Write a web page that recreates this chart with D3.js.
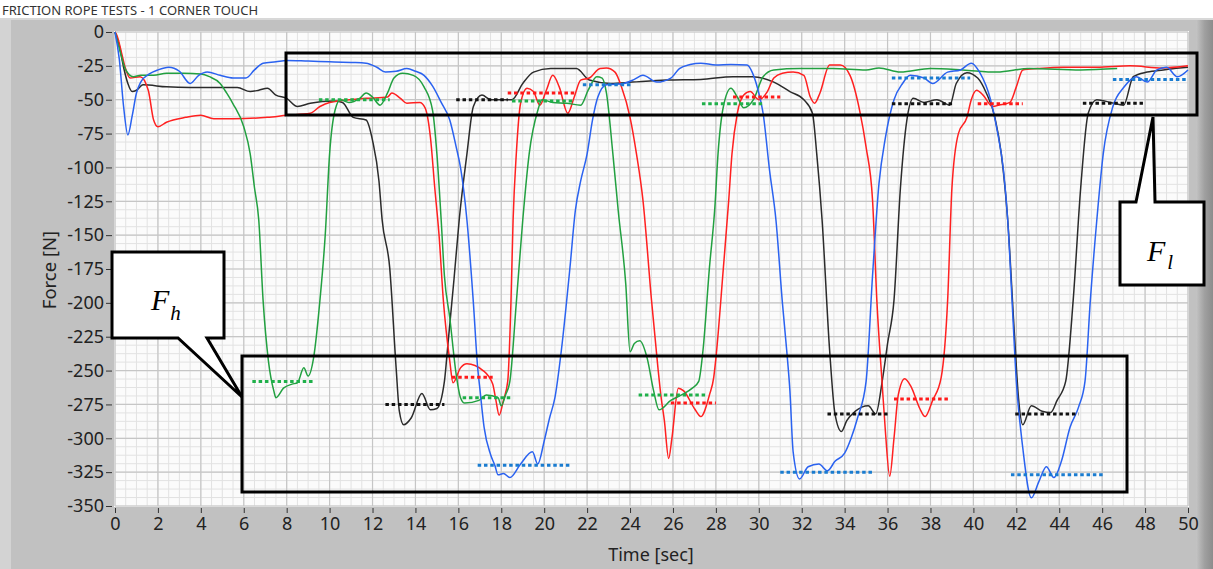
<!DOCTYPE html>
<html>
<head>
<meta charset="utf-8">
<script src="https://cdn.jsdelivr.net/npm/d3@7"></script>
<style>
  html, body { margin: 0; padding: 0; background: #fff; }
  svg { display: block; }
</style>
</head>
<body>
<div id="chart"></div>
<script>
// ---- data ----
var xTicks = [0,2,4,6,8,10,12,14,16,18,20,22,24,26,28,30,32,34,36,38,40,42,44,46,48,50];
var yTicks = [0,-25,-50,-75,-100,-125,-150,-175,-200,-225,-250,-275,-300,-325,-350];

var blueData = [[0,0],[0.2,-20],[0.4,-55],[0.6,-76],[0.8,-62],[1.0,-45],[1.2,-37],[1.6,-31],[2.0,-28],[2.5,-26],[3.0,-29],[3.5,-38],[3.9,-32],[4.3,-29.5],[4.9,-32],[5.5,-34],[6.1,-34],[6.5,-28],[6.9,-23],[7.5,-22],[8.0,-21],[9,-21.5],[10,-22],[11,-22.5],[11.7,-23],[12.2,-26],[12.6,-29.5],[13.1,-29],[13.6,-27],[14.0,-29],[14.4,-32],[14.8,-40],[15.2,-52],[15.6,-65],[15.9,-85],[16.1,-100],[16.4,-139],[16.7,-200],[16.9,-248],[17.0,-263],[17.2,-292],[17.5,-312],[17.7,-320],[17.85,-327],[18.1,-326],[18.4,-329],[18.9,-319],[19.45,-310],[19.7,-319],[20.0,-302],[20.25,-285],[20.5,-270],[20.8,-235],[21.2,-174],[21.45,-132],[21.7,-110],[22.0,-90],[22.25,-65],[22.5,-48],[22.9,-39],[23.7,-38],[24.2,-35],[24.6,-32],[25.25,-37],[25.9,-34],[26.3,-27],[26.8,-24],[27.3,-23],[28.0,-24.4],[28.7,-24],[29.45,-24.4],[29.7,-30],[29.95,-42],[30.2,-60],[30.5,-102],[30.8,-139],[31.1,-200],[31.3,-235],[31.45,-265],[31.6,-310],[31.9,-330],[32.3,-321],[32.8,-319],[33.2,-324],[33.55,-317],[34.0,-311],[34.3,-300],[34.6,-285],[35.0,-258],[35.3,-180],[35.6,-112],[35.9,-78],[36.3,-50],[36.7,-38],[37.05,-32],[37.7,-34],[38.1,-38],[38.8,-29.6],[39.4,-28],[39.9,-23],[40.3,-30],[40.8,-50],[41.1,-72],[41.4,-102],[41.6,-139],[41.8,-198],[42.0,-258],[42.3,-307],[42.7,-344],[43.05,-332],[43.4,-321],[43.75,-329],[44.1,-317],[44.5,-292],[44.9,-277],[45.2,-258],[45.45,-198],[45.75,-139],[46.05,-90],[46.5,-55],[47.0,-41],[47.6,-33],[48.1,-37],[48.55,-28],[49.0,-26],[49.5,-33],[50,-28]];

var blackData = [[0,0],[0.2,-10],[0.4,-26],[0.6,-38],[0.8,-44],[1.0,-43],[1.3,-39],[2.4,-40.5],[3.5,-41],[4.75,-41],[5.7,-41],[6.3,-44],[6.7,-43],[7.1,-41.5],[7.5,-46.6],[8.0,-49],[8.5,-55],[9.1,-52.6],[10.2,-51],[10.6,-52],[11.1,-63],[11.7,-65],[12.0,-80],[12.3,-110],[12.45,-139],[12.8,-174],[13.1,-248],[13.25,-280],[13.45,-290],[13.8,-285],[14.3,-267],[14.7,-279],[15.0,-278],[15.35,-258],[15.5,-233],[15.8,-182],[16.05,-137],[16.4,-90],[16.7,-55],[17.1,-46.6],[17.5,-50],[18.5,-50],[19.0,-38],[19.5,-29.6],[20.3,-27],[21.5,-27],[22.1,-35.5],[23.1,-38],[24.1,-37],[25.7,-35.5],[27.3,-35],[28.8,-33],[29.7,-33],[30.7,-37],[31.45,-44],[32.1,-50],[32.5,-60],[32.7,-90],[32.95,-139],[33.3,-235],[33.55,-282],[33.85,-295],[34.1,-287],[34.5,-280],[35.1,-276],[35.45,-282],[35.75,-258],[36.0,-230],[36.3,-198],[36.6,-115],[36.9,-65],[37.2,-49],[37.7,-52],[38.3,-50],[38.9,-54],[39.2,-38],[39.7,-30],[40.2,-34],[40.6,-45],[41.0,-63],[41.3,-90],[41.6,-139],[41.9,-220],[42.1,-270],[42.3,-290],[42.7,-276],[43.2,-280],[43.6,-281],[43.9,-272],[44.3,-258],[44.65,-198],[45.0,-115],[45.35,-60],[45.75,-50],[46.4,-52],[47.0,-54],[47.45,-33],[48.1,-29.6],[48.85,-28],[49.6,-26.6],[50,-26]];

var redData = [[0,0],[0.1,-3],[0.3,-15],[0.47,-26],[0.7,-34],[1.17,-33],[1.55,-43],[1.8,-65],[2.0,-70],[2.4,-66.6],[3.3,-63],[4.0,-61.5],[4.6,-64],[5.5,-64],[7.1,-63],[8.0,-61.5],[9.1,-60],[9.55,-55],[10.0,-52],[11.7,-49],[12.7,-48],[12.9,-45],[13.3,-49],[13.6,-52.6],[14.2,-52],[14.45,-56],[14.7,-78],[14.9,-115],[15.1,-150],[15.3,-198],[15.6,-243],[15.75,-259],[16.1,-248],[16.4,-245],[17.15,-250],[17.6,-260],[17.75,-272],[17.9,-283],[18.1,-272],[18.3,-258],[18.45,-200],[18.55,-139],[18.7,-90],[18.9,-52.6],[19.2,-41.5],[19.5,-44],[19.8,-54],[20.1,-43],[20.4,-32],[20.7,-40.5],[21.1,-60],[21.4,-48],[21.7,-35.5],[22.1,-34],[22.6,-27],[22.9,-26.6],[23.3,-29.6],[23.6,-40.5],[24.0,-63],[24.3,-90],[24.6,-124],[25.0,-198],[25.3,-248],[25.45,-270],[25.6,-287],[25.8,-315],[25.95,-300],[26.25,-263],[26.5,-265],[27.0,-278],[27.3,-284],[27.7,-268],[27.9,-255],[28.0,-241],[28.35,-174],[28.6,-124],[28.75,-90],[29.0,-60],[29.3,-46.6],[29.6,-44],[30.0,-50],[30.4,-44],[30.7,-34],[31.1,-30.5],[31.6,-29.6],[32.1,-32],[32.4,-48],[32.6,-52.6],[32.85,-45],[33.3,-24.4],[33.8,-24.4],[34.25,-32],[34.7,-58],[35.0,-85],[35.3,-124],[35.5,-198],[35.75,-260],[35.9,-295],[36.1,-328],[36.3,-300],[36.5,-268],[36.8,-256],[37.1,-262],[37.5,-278],[37.75,-284],[38.1,-272],[38.5,-255],[38.8,-198],[39.0,-115],[39.3,-75],[39.7,-63],[39.9,-50],[40.15,-43],[40.45,-46.6],[40.9,-55],[41.2,-54],[41.7,-52],[42.0,-40.5],[42.3,-28],[43.0,-27],[44.2,-26],[45.75,-26],[47.3,-25],[48.8,-26.6],[50,-25]];

var greenData = [[0,0],[0.2,-12],[0.5,-28],[0.85,-33],[1.2,-32],[1.8,-32],[2.4,-30.5],[3.2,-30.5],[4.0,-31],[4.4,-33],[4.9,-38],[5.2,-45],[5.5,-53],[6.0,-70],[6.3,-90],[6.5,-115],[6.7,-139],[6.9,-198],[7.15,-243],[7.4,-265],[7.5,-270],[7.85,-263],[8.25,-260],[8.5,-259],[8.8,-248],[9.0,-254],[9.25,-241],[9.55,-198],[9.8,-149],[10.0,-90],[10.25,-58],[10.5,-50],[10.9,-52],[11.4,-49],[11.7,-45],[12.0,-48],[12.35,-54],[12.7,-45],[13.0,-34],[13.4,-30.5],[13.9,-32],[14.4,-40.5],[14.8,-58],[15.0,-90],[15.2,-139],[15.35,-180],[15.6,-211],[15.9,-253],[16.1,-270],[16.3,-274],[16.96,-272],[17.3,-268],[17.85,-270],[18.0,-276],[18.2,-268],[18.4,-258],[18.7,-200],[19.0,-139],[19.3,-90],[19.7,-58],[19.9,-50],[20.4,-52],[21.05,-52.6],[21.7,-54],[22.05,-43],[22.45,-33],[22.7,-34],[22.9,-45],[23.2,-90],[23.45,-132],[23.8,-186],[24.0,-236],[24.2,-230],[24.45,-228],[24.8,-241],[25.1,-265],[25.35,-279],[25.9,-272],[26.4,-268],[26.9,-263],[27.2,-258],[27.4,-235],[27.7,-174],[27.95,-130],[28.1,-90],[28.35,-55],[28.7,-41.5],[29.0,-48],[29.3,-56],[29.75,-50],[30.2,-33],[30.7,-28],[31.9,-27],[33.45,-27],[35.0,-28],[35.6,-26.6],[36.6,-29.6],[38.0,-27],[39.5,-28],[41.1,-29.6],[42.6,-27],[45.0,-28],[46.7,-27]];

// dotted mean levels: [t start, t end, force]
var greenLevels = [[9.5,12.8,-50],[18.5,21.4,-51],[27.35,30.2,-53],[6.4,9.25,-258],[16.2,18.55,-270],[24.4,27.5,-268]];
var blackLevels = [[15.9,18.3,-50],[36.2,39.05,-53],[45.1,47.9,-52.6],[12.6,15.35,-275],[33.2,36.0,-282],[41.95,44.9,-282]];
var redLevels = [[18.3,21.4,-45],[28.8,31.0,-48],[40.2,42.3,-53],[15.7,17.6,-255],[25.9,28.0,-274],[36.3,38.9,-271]];
var blueLevels = [[21.8,24.1,-39],[36.2,39.85,-34],[46.5,50,-35],[16.9,21.25,-320],[31.0,35.4,-325],[41.75,46.15,-327]];

function init(){
    var w = 1213, h = 569;
    var font = "'Noto Sans', 'Open Sans', sans-serif";

    var svg = d3.select("#chart").append("svg")
        .attr("width", w).attr("height", h);

    var defs = svg.append("defs");
    defs.append("filter").attr("id", "blur")
        .attr("x", "-10%").attr("y", "-200%").attr("width", "120%").attr("height", "500%")
        .append("feGaussianBlur").attr("stdDeviation", 1.6);
    defs.append("clipPath").attr("id", "plotclip")
        .append("rect").attr("x", 114).attr("y", 31).attr("width", 1075).attr("height", 476);
    var grad = defs.append("linearGradient").attr("id", "rightedge")
        .attr("x1", "0").attr("x2", "1").attr("y1", "0").attr("y2", "0");
    grad.append("stop").attr("offset", "0").attr("stop-color", "#c4c4c4");
    grad.append("stop").attr("offset", "0.5").attr("stop-color", "#a0a0a0");
    grad.append("stop").attr("offset", "1").attr("stop-color", "#8c8c8c");

    // title
    svg.append("text")
        .attr("x", 2).attr("y", 14.5)
        .text("FRICTION ROPE TESTS - 1 CORNER TOUCH")
        .style("font-family", font).style("font-size", "13px").style("fill", "#333");

    // panel background
    svg.append("rect").attr("x", 0).attr("y", 18).attr("width", w).attr("height", h - 18).attr("fill", "#c1c1c1");
    svg.append("rect").attr("x", 0).attr("y", 18).attr("width", 11).attr("height", h - 18).attr("fill", "#d3d3d3");
    svg.append("rect").attr("x", 1196).attr("y", 18).attr("width", 17).attr("height", h - 18).attr("fill", "url(#rightedge)");
    svg.append("rect").attr("x", 0).attr("y", 18).attr("width", w).attr("height", 2).attr("fill", "#d8d8d8");

    var x = d3.scaleLinear().domain([0, 50]).range([115, 1188]);
    var y = d3.scaleLinear().domain([0, -350]).range([32, 506]);

    // plot area
    svg.append("rect").attr("x", 114).attr("y", 31).attr("width", 1075).attr("height", 476).attr("fill", "#fbfbfb");

    var minorX = d3.range(0, 50.01, 0.5);
    var minorY = d3.range(0, -350.01, -6.25);

    var grid = svg.append("g");
    grid.selectAll("line.mx").data(minorX).enter().append("line")
        .attr("x1", function(d){ return x(d); }).attr("x2", function(d){ return x(d); })
        .attr("y1", y(0)).attr("y2", y(-350))
        .attr("stroke", "#e2e2e2").attr("stroke-width", 1);
    grid.selectAll("line.my").data(minorY).enter().append("line")
        .attr("y1", function(d){ return y(d); }).attr("y2", function(d){ return y(d); })
        .attr("x1", x(0)).attr("x2", x(50))
        .attr("stroke", "#e2e2e2").attr("stroke-width", 1);
    grid.selectAll("line.gx").data(xTicks).enter().append("line")
        .attr("x1", function(d){ return x(d); }).attr("x2", function(d){ return x(d); })
        .attr("y1", y(0)).attr("y2", y(-350))
        .attr("stroke", "#c6c6c6").attr("stroke-width", 1.2);
    grid.selectAll("line.gy").data(yTicks).enter().append("line")
        .attr("y1", function(d){ return y(d); }).attr("y2", function(d){ return y(d); })
        .attr("x1", x(0)).attr("x2", x(50))
        .attr("stroke", "#c6c6c6").attr("stroke-width", 1.2);

    // axes
    var yAxis = svg.append("g")
        .attr("transform", "translate(112,0)")
        .call(d3.axisLeft(y).tickValues(yTicks).tickSize(6).tickPadding(2).tickFormat(d3.format("d")));
    var xAxis = svg.append("g")
        .attr("transform", "translate(0,508)")
        .call(d3.axisBottom(x).tickValues(xTicks).tickSize(5).tickPadding(4).tickFormat(d3.format("d")));
    [yAxis, xAxis].forEach(function(a){
        a.select(".domain").remove();
        a.selectAll("line").attr("stroke", "#333");
        a.selectAll("text").style("font-family", font).style("font-size", "18px").style("fill", "#222");
    });
    xAxis.selectAll("text").text(function(d){ return d; });
    yAxis.selectAll("text").text(function(d){ return d === 0 ? "0" : "-" + Math.abs(d); });

    svg.append("text")
        .attr("transform", "translate(56,270) rotate(-90)")
        .attr("text-anchor", "middle")
        .text("Force  [N]")
        .style("font-family", font).style("font-size", "18.5px").style("fill", "#222");
    svg.append("text")
        .attr("x", 651).attr("y", 561)
        .attr("text-anchor", "middle")
        .text("Time [sec]")
        .style("font-family", font).style("font-size", "18px").style("fill", "#222");

    // curves
    var line = d3.line()
        .x(function(d){ return x(d[0]); })
        .y(function(d){ return y(d[1]); })
        .curve(d3.curveMonotoneX);

    var plot = svg.append("g").attr("clip-path", "url(#plotclip)");
    var series = [
        { data: blackData, color: "#2b2b2b" },
        { data: redData, color: "#ff2020" },
        { data: greenData, color: "#22a040" },
        { data: blueData, color: "#2a62f0" }
    ];
    series.forEach(function(s){
        plot.append("path")
            .datum(s.data)
            .attr("d", line)
            .attr("fill", "none")
            .attr("stroke", s.color)
            .attr("stroke-width", 1.5)
            .attr("stroke-linejoin", "round");
    });

    // dotted mean levels with soft shadow
    var levels = [
        { data: greenLevels, color: "#1fb04a" },
        { data: redLevels, color: "#ff1a1a" },
        { data: blackLevels, color: "#111111" },
        { data: blueLevels, color: "#1a7cd0" }
    ];
    var lev = svg.append("g");
    levels.forEach(function(l){
        lev.selectAll(null).data(l.data).enter().append("line")
            .attr("x1", function(d){ return x(d[0]); })
            .attr("x2", function(d){ return x(d[1]); })
            .attr("y1", function(d){ return y(d[2]) + 3; })
            .attr("y2", function(d){ return y(d[2]) + 3; })
            .attr("stroke", "#9a9a9a").attr("stroke-width", 5)
            .attr("opacity", 0.35).attr("filter", "url(#blur)");
        lev.selectAll(null).data(l.data).enter().append("line")
            .attr("x1", function(d){ return x(d[0]); })
            .attr("x2", function(d){ return x(d[1]); })
            .attr("y1", function(d){ return y(d[2]); })
            .attr("y2", function(d){ return y(d[2]); })
            .attr("stroke", l.color).attr("stroke-width", 3)
            .attr("stroke-dasharray", "3.5,2.8");
    });

    // annotation boxes
    var ann = svg.append("g").attr("fill", "none").attr("stroke", "#000").attr("stroke-width", 3);
    ann.append("rect").attr("x", 286).attr("y", 53).attr("width", 911).attr("height", 62);
    ann.append("rect").attr("x", 242).attr("y", 356).attr("width", 885).attr("height", 136);

    ann.append("path")
        .attr("d", "M112,252 H224 V338 H207 L242,397 L178,338 H112 Z")
        .attr("fill", "#fff").attr("stroke-linejoin", "miter");
    ann.append("path")
        .attr("d", "M1120,202 H1136 L1153,117 L1155,202 H1204 V285 H1120 Z")
        .attr("fill", "#fff").attr("stroke-linejoin", "miter");

    var serif = "'Liberation Serif', 'DejaVu Serif', serif";
    var fh = svg.append("text").attr("x", 151).attr("y", 310)
        .style("font-family", serif).style("font-style", "italic").style("font-size", "30px").style("fill", "#000");
    fh.append("tspan").text("F");
    fh.append("tspan").attr("dy", 10).attr("dx", 1).style("font-size", "21px").text("h");

    var fl = svg.append("text").attr("x", 1147).attr("y", 261)
        .style("font-family", serif).style("font-style", "italic").style("font-size", "30px").style("fill", "#000");
    fl.append("tspan").text("F");
    fl.append("tspan").attr("dy", 8).attr("dx", 2).style("font-size", "21px").text("l");
}

window.onload = init;
</script>
</body>
</html>
